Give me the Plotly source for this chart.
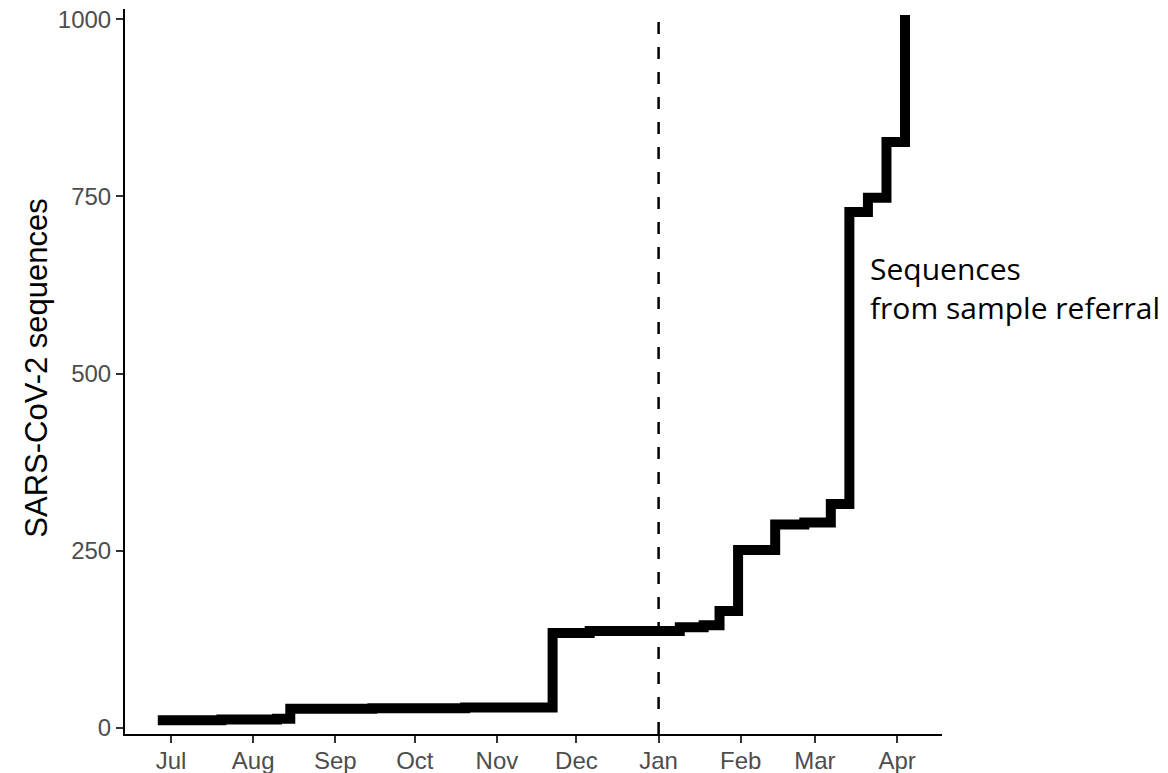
import plotly.graph_objects as go

# Cumulative SARS-CoV-2 sequences (step changes)
dates = ["2020-06-26", "2020-07-20", "2020-08-10", "2020-08-15", "2020-09-15",
         "2020-10-20", "2020-11-22", "2020-12-06", "2021-01-09", "2021-01-18",
         "2021-01-24", "2021-01-31", "2021-02-14", "2021-02-25", "2021-03-07",
         "2021-03-14", "2021-03-21", "2021-03-28", "2021-04-04"]
counts = [11, 12, 13, 27, 28, 29, 134, 137, 142, 145, 165, 251, 287, 290, 316,
          728, 748, 827, 1006]

tick_dates = ["2020-07-01", "2020-08-01", "2020-09-01", "2020-10-01", "2020-11-01",
              "2020-12-01", "2021-01-01", "2021-02-01", "2021-03-01", "2021-04-01"]
tick_labels = ["Jul", "Aug", "Sep", "Oct", "Nov", "Dec", "Jan", "Feb", "Mar", "Apr"]
y_ticks = [0, 250, 500, 750, 1000]

vline_date = "2021-01-01"
annot_date = "2021-03-21"
annot_value = 621
annot_text = "Sequences<br>from sample referral"
y_title = "SARS-CoV-2 sequences"

fig = go.Figure()
fig.add_trace(go.Scatter(
    x=dates, y=counts, mode="lines", line_shape="hv",
    line=dict(color="black", width=10), showlegend=False, hoverinfo="skip"))

fig.add_shape(type="line", xref="x", yref="paper", x0=vline_date, x1=vline_date,
              y0=0, y1=1, line=dict(color="black", width=2.5, dash="12px,13px"))

fig.add_annotation(x=annot_date, y=annot_value, xref="x", yref="y", text=annot_text,
                   showarrow=False, xanchor="left", yanchor="middle", align="left",
                   font=dict(family="Open Sans", size=30, color="black"))

fig.add_annotation(x=-0.108, y=0.505, xref="paper", yref="paper", text=y_title,
                   showarrow=False, textangle=-90, xanchor="center", yanchor="middle",
                   font=dict(family="Liberation Sans", size=31, color="black"))

axis_common = dict(showline=True, linecolor="black", linewidth=2, ticks="outside",
                   ticklen=7, tickwidth=2, tickcolor="#333333", showgrid=False,
                   zeroline=False, automargin=False,
                   tickfont=dict(family="Liberation Sans", size=24, color="#4D4D4D"))

fig.update_xaxes(range=["2020-06-13 15:00", "2021-04-17 23:00"], tickmode="array",
                 tickvals=tick_dates, ticktext=tick_labels, ticklabelstandoff=-3,
                 **axis_common)
fig.update_yaxes(range=[-8.5, 1014.5], tickmode="array", tickvals=y_ticks,
                 ticktext=[str(v) for v in y_ticks], **axis_common)

fig.update_layout(width=1168, height=773,
                  margin=dict(l=125, r=226, t=9, b=39, autoexpand=False),
                  plot_bgcolor="white", paper_bgcolor="white")

# remove the default page margin so the figure fills the window exactly
fig.write_html("out.html", config={"displayModeBar": False},
               post_script="document.body.style.margin='0';")
